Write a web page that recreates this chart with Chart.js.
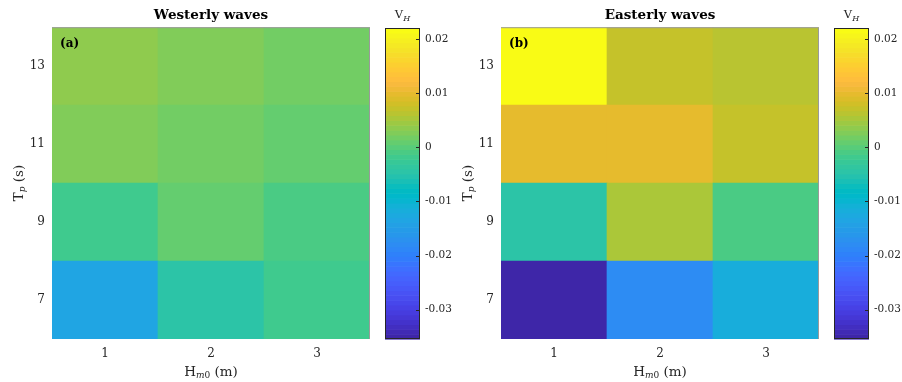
<!DOCTYPE html>
<html>
<head>
<meta charset="utf-8">
<script src="https://cdn.jsdelivr.net/npm/chart.js@4.4.1/dist/chart.umd.min.js"></script>
<style>
  body { margin: 0; background: #fff; width: 902px; height: 382px; position: relative; overflow: hidden; }
  canvas { position: absolute; top: 0; }
</style>
</head>
<body>
<canvas id="heat-a" style="left:0" width="372" height="382"></canvas>
<canvas id="bar-a" style="left:385px" width="80" height="382"></canvas>
<canvas id="heat-b" style="left:449px" width="372" height="382"></canvas>
<canvas id="bar-b" style="left:834px" width="68" height="382"></canvas>
<script>
// axes
const hm0 = [1, 2, 3];
const tp = [7, 9, 11, 13];
const tpTicks = [7, 9, 11, 13];
const cbTicks = [-0.03, -0.02, -0.01, 0, 0.01, 0.02];

// V_H, one row per Tp (7, 9, 11, 13), one column per Hm0 (1, 2, 3)
const westerly = [
  [-0.0134, -0.0045, -0.0018],
  [-0.0022,  0.0009, -0.0009],
  [ 0.0027,  0.0018,  0.0009],
  [ 0.0036,  0.0027,  0.0018]
];
const easterly = [
  [-0.0354, -0.0179, -0.0116],
  [-0.0045,  0.0054, -0.0009],
  [ 0.0099,  0.0101,  0.0072],
  [ 0.0219,  0.0072,  0.0063]
];
const cMin = -0.0354;
const cMax = 0.0220;

// matlab parula, 64 steps
const PARULA = [
  [0.2422,0.1504,0.6603],[0.2504,0.1650,0.7076],[0.2578,0.1818,0.7511],[0.2647,0.1978,0.7952],
  [0.2706,0.2147,0.8364],[0.2751,0.2342,0.8710],[0.2783,0.2559,0.8991],[0.2803,0.2782,0.9221],
  [0.2813,0.3006,0.9414],[0.2810,0.3228,0.9579],[0.2795,0.3447,0.9717],[0.2760,0.3667,0.9829],
  [0.2699,0.3892,0.9906],[0.2602,0.4123,0.9952],[0.2440,0.4358,0.9988],[0.2206,0.4603,0.9973],
  [0.1963,0.4847,0.9892],[0.1834,0.5074,0.9798],[0.1786,0.5289,0.9682],[0.1764,0.5499,0.9520],
  [0.1687,0.5703,0.9359],[0.1540,0.5902,0.9218],[0.1460,0.6091,0.9079],[0.1380,0.6276,0.8973],
  [0.1248,0.6459,0.8883],[0.1113,0.6635,0.8763],[0.0952,0.6798,0.8598],[0.0689,0.6948,0.8394],
  [0.0297,0.7082,0.8163],[0.0036,0.7203,0.7917],[0.0067,0.7312,0.7660],[0.0433,0.7411,0.7394],
  [0.0964,0.7500,0.7120],[0.1408,0.7584,0.6842],[0.1717,0.7670,0.6554],[0.1938,0.7758,0.6251],
  [0.2161,0.7843,0.5923],[0.2470,0.7918,0.5567],[0.2906,0.7973,0.5188],[0.3406,0.8008,0.4789],
  [0.3909,0.8029,0.4354],[0.4456,0.8024,0.3909],[0.5044,0.7993,0.3480],[0.5616,0.7942,0.3045],
  [0.6174,0.7876,0.2612],[0.6720,0.7793,0.2227],[0.7242,0.7698,0.1910],[0.7738,0.7598,0.1646],
  [0.8203,0.7498,0.1535],[0.8634,0.7406,0.1596],[0.9035,0.7330,0.1774],[0.9393,0.7288,0.2100],
  [0.9728,0.7298,0.2394],[0.9956,0.7434,0.2371],[0.9970,0.7659,0.2199],[0.9952,0.7893,0.2028],
  [0.9892,0.8136,0.1885],[0.9786,0.8386,0.1766],[0.9676,0.8639,0.1643],[0.9610,0.8890,0.1537],
  [0.9597,0.9135,0.1423],[0.9628,0.9373,0.1265],[0.9691,0.9606,0.1064],[0.9769,0.9839,0.0805]
];

const SERIF = '"DejaVu Serif", "Liberation Serif", serif';
const INK = '#262626';

function rgb(c) {
  return `rgb(${Math.round(c[0] * 255)},${Math.round(c[1] * 255)},${Math.round(c[2] * 255)})`;
}

function colorFor(v) {
  let k = Math.floor((v - cMin) / (cMax - cMin) * PARULA.length);
  k = Math.max(0, Math.min(PARULA.length - 1, k));
  return rgb(PARULA[k]);
}

// draws text like [['T'], ['p', 'i'], [' (s)']] centred on x,y
// 2nd item: 'i' = italic subscript, 's' = upright subscript
function drawParts(ctx, parts, x, y, size) {
  const subSize = Math.round(size * 0.7);
  const fontOf = p => p[1] ? `${p[1] === 'i' ? 'italic ' : ''}${subSize}px ${SERIF}` : `${size}px ${SERIF}`;
  let w = 0;
  parts.forEach(p => {
    ctx.font = fontOf(p);
    w += ctx.measureText(p[0]).width;
  });
  let cx = x - w / 2;
  ctx.textAlign = 'left';
  ctx.textBaseline = 'middle';
  parts.forEach(p => {
    ctx.font = fontOf(p);
    ctx.fillText(p[0], cx, p[1] ? y + size * 0.3 : y);
    cx += ctx.measureText(p[0]).width;
  });
}

const heatDecor = {
  id: 'heatDecor',
  afterDraw(chart, args, opts) {
    const { ctx, chartArea: a } = chart;
    ctx.save();
    // axes box (only top/right show above the image)
    ctx.strokeStyle = '#9a9a9a';
    ctx.lineWidth = 1;
    ctx.beginPath();
    ctx.moveTo(a.left, a.top + 0.5);
    ctx.lineTo(a.right - 0.5, a.top + 0.5);
    ctx.lineTo(a.right - 0.5, a.bottom);
    ctx.stroke();
    ctx.fillStyle = INK;
    drawParts(ctx, [['H'], ['m', 'i'], ['0', 's'], [' (m)']], (a.left + a.right) / 2, 372, 13.5);
    ctx.translate(19, (a.top + a.bottom) / 2);
    ctx.rotate(-Math.PI / 2);
    drawParts(ctx, [['T'], ['p', 'i'], [' (s)']], 0, 0, 13.5);
    ctx.restore();
    ctx.save();
    ctx.fillStyle = '#000';
    ctx.font = `bold 12px ${SERIF}`;
    ctx.textBaseline = 'middle';
    ctx.fillText(opts.tag, a.left + 8, a.top + 17);
    ctx.restore();
  }
};

function heatmap(id, title, tag, values) {
  const datasets = tp.map((t, r) => ({
    data: hm0.map(() => [t - 1, t + 1]),
    backgroundColor: values[r].map(colorFor),
    borderWidth: 0,
    barPercentage: 1,
    categoryPercentage: 1,
    grouped: false
  }));
  new Chart(document.getElementById(id), {
    type: 'bar',
    data: { labels: hm0.map(String), datasets },
    options: {
      responsive: false,
      animation: false,
      layout: { padding: { right: 2 } },
      plugins: {
        legend: { display: false },
        tooltip: { enabled: false },
        title: {
          display: true, text: title, color: '#000', fullSize: false,
          font: { family: SERIF, size: 13.5, weight: 'bold' },
          padding: { top: 7, bottom: 4 }
        },
        heatDecor: { tag }
      },
      scales: {
        x: {
          grid: { display: false, drawTicks: false },
          border: { display: false },
          ticks: { color: INK, padding: 8, font: { family: SERIF, size: 12 } },
          afterFit: s => { s.height = 43; }
        },
        y: {
          min: 6, max: 14,
          grid: { display: false, drawTicks: false },
          border: { display: false },
          afterBuildTicks: s => { s.ticks = tpTicks.map(v => ({ value: v })); },
          ticks: { color: INK, padding: 7, font: { family: SERIF, size: 12 } },
          afterFit: s => { s.width = 52; }
        }
      }
    },
    plugins: [heatDecor]
  });
}

const colorbarFill = {
  id: 'colorbarFill',
  beforeDraw(chart) {
    const { ctx, chartArea: a, scales: { y } } = chart;
    const n = PARULA.length;
    ctx.save();
    PARULA.forEach((c, i) => {
      const y0 = y.getPixelForValue(cMin + (cMax - cMin) * i / n);
      const y1 = y.getPixelForValue(cMin + (cMax - cMin) * (i + 1) / n);
      ctx.fillStyle = rgb(c);
      ctx.fillRect(a.left, y1, a.right - a.left, y0 - y1 + 0.6);
    });
    ctx.restore();
  },
  afterDraw(chart) {
    const { ctx, chartArea: a, scales: { y } } = chart;
    ctx.save();
    ctx.strokeStyle = INK;
    ctx.lineWidth = 1;
    ctx.strokeRect(a.left + 0.5, a.top + 0.5, a.right - a.left - 1, a.bottom - a.top - 1);
    ctx.beginPath();
    cbTicks.forEach(v => {
      const py = Math.round(y.getPixelForValue(v)) + 0.5;
      ctx.moveTo(a.right - 4, py);
      ctx.lineTo(a.right, py);
    });
    ctx.stroke();
    ctx.fillStyle = INK;
    drawParts(ctx, [['V'], ['H', 'i']], (a.left + a.right) / 2, 15, 11.5);
    ctx.restore();
  }
};

function colorbar(id) {
  new Chart(document.getElementById(id), {
    type: 'bar',
    data: { labels: [''], datasets: [{ data: [] }] },
    options: {
      responsive: false,
      animation: false,
      layout: { padding: { top: 28, bottom: 43 } },
      plugins: { legend: { display: false }, tooltip: { enabled: false } },
      scales: {
        x: { display: false },
        y: {
          position: 'right',
          min: cMin, max: cMax,
          grid: { display: false, drawTicks: false },
          border: { display: false },
          afterBuildTicks: s => { s.ticks = cbTicks.map(v => ({ value: v })); },
          ticks: {
            color: INK, padding: 5, font: { family: SERIF, size: 10.5 },
            callback: v => v === 0 ? '0' : v.toFixed(2)
          },
          afterFit: s => { s.width = s.chart.width - 35; }
        }
      }
    },
    plugins: [colorbarFill]
  });
}

heatmap('heat-a', 'Westerly waves', '(a)', westerly);
colorbar('bar-a');
heatmap('heat-b', 'Easterly waves', '(b)', easterly);
colorbar('bar-b');
</script>
</body>
</html>
